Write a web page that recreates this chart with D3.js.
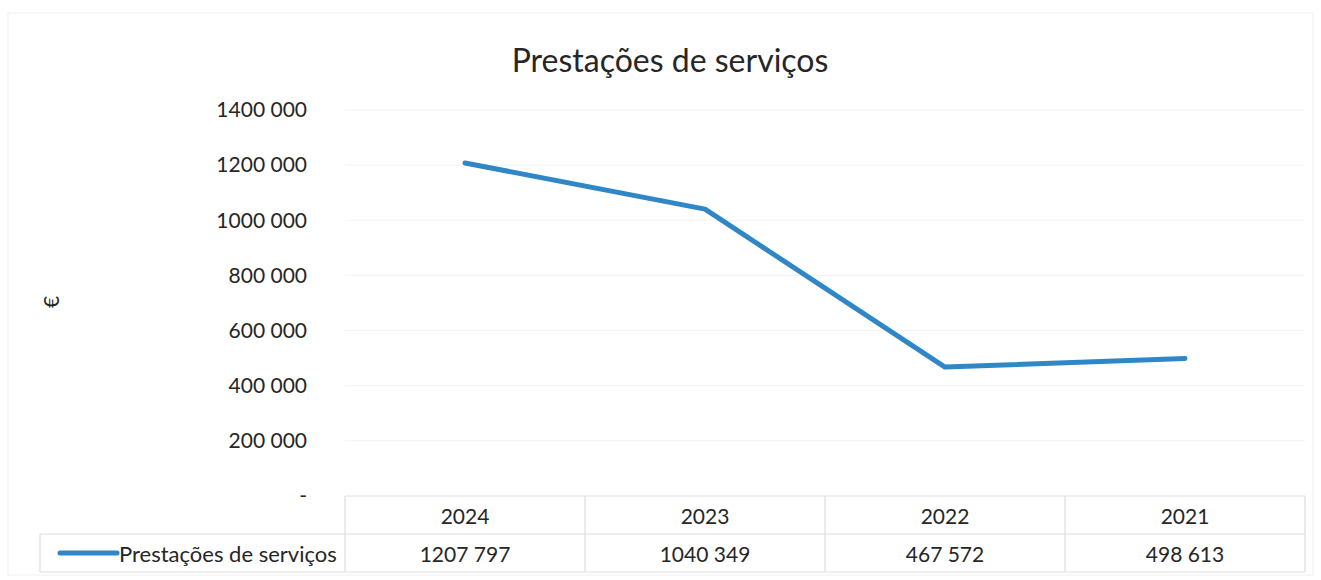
<!DOCTYPE html>
<html lang="pt">
  <head>
    <meta charset="utf-8">
    <title>Prestações de serviços</title>
    <script src="https://cdnjs.cloudflare.com/ajax/libs/d3/7.8.5/d3.min.js"></script>
    <style>
      body { margin: 0; background: #fff; }
      text { font-family: Lato, "Open Sans", sans-serif; fill: #262626; }
    </style>
  </head>
  <body>
    <script>
      // data
      const years = ["2024", "2023", "2022", "2021"];
      const values = [1207797, 1040349, 467572, 498613];
      const valueLabels = ["1207 797", "1040 349", "467 572", "498 613"];
      const yTicks = [0, 200000, 400000, 600000, 800000, 1000000, 1200000, 1400000];
      const yTickLabels = ["-", "200 000", "400 000", "600 000", "800 000", "1000 000", "1200 000", "1400 000"];
      const seriesName = "Prestações de serviços";

      const w = 1321, h = 580;
      const plotLeft = 345, plotRight = 1305, plotTop = 110, plotBottom = 496;
      const rowMid = 534, rowEnd = 572, legendLeft = 40;
      const blue = "#2f87c8";

      const svg = d3.select("body").append("svg")
        .attr("width", w).attr("height", h);

      // faint outer frame
      svg.append("rect")
        .attr("x", 8).attr("y", 13).attr("width", 1305).attr("height", 562)
        .attr("fill", "none").attr("stroke", "#f0f0f0");

      const x = d3.scaleBand().domain(years).range([plotLeft, plotRight]).padding(0);
      const y = d3.scaleLinear().domain([0, 1400000]).range([plotBottom, plotTop]);

      // gridlines
      svg.append("g").selectAll("line")
        .data(yTicks.slice(1))
        .join("line")
        .attr("x1", plotLeft).attr("x2", plotRight)
        .attr("y1", d => y(d)).attr("y2", d => y(d))
        .attr("stroke", "#f2f2f2").attr("stroke-width", 1);

      // y axis labels
      const yAxis = d3.axisLeft(y).tickValues(yTicks)
        .tickFormat((d, i) => yTickLabels[i]).tickSize(0).tickPadding(38);
      const gy = svg.append("g").attr("transform", `translate(${plotLeft},0)`).call(yAxis);
      gy.select(".domain").remove();
      gy.selectAll("text").style("font-size", "21px").attr("fill", "#262626")
        .style("font-family", "Lato, 'Open Sans', sans-serif");

      // unit label
      svg.append("text")
        .attr("transform", "translate(59,302) rotate(-90)")
        .attr("text-anchor", "middle")
        .style("font-size", "21px")
        .text("€");

      // title
      svg.append("text")
        .attr("x", 670).attr("y", 72)
        .attr("text-anchor", "middle")
        .style("font-size", "32px")
        .text("Prestações de serviços");

      // data table
      const tbl = svg.append("g").attr("stroke", "#dedede").attr("stroke-width", 1.2);
      tbl.append("line").attr("x1", plotLeft).attr("x2", plotRight).attr("y1", plotBottom).attr("y2", plotBottom);
      tbl.append("line").attr("x1", legendLeft).attr("x2", plotRight).attr("y1", rowMid).attr("y2", rowMid);
      tbl.append("line").attr("x1", legendLeft).attr("x2", plotRight).attr("y1", rowEnd).attr("y2", rowEnd);
      tbl.append("line").attr("x1", legendLeft).attr("x2", legendLeft).attr("y1", rowMid).attr("y2", rowEnd);
      tbl.selectAll(".vl")
        .data(years.concat(["end"]))
        .join("line")
        .attr("x1", (d, i) => i < years.length ? x(d) : plotRight)
        .attr("x2", (d, i) => i < years.length ? x(d) : plotRight)
        .attr("y1", plotBottom).attr("y2", rowEnd);

      svg.append("g").selectAll("text")
        .data(years)
        .join("text")
        .attr("x", d => x(d) + x.bandwidth() / 2)
        .attr("y", 524)
        .attr("text-anchor", "middle")
        .style("font-size", "21px")
        .text(d => d);

      svg.append("g").selectAll("text")
        .data(valueLabels)
        .join("text")
        .attr("x", (d, i) => x(years[i]) + x.bandwidth() / 2)
        .attr("y", 562)
        .attr("text-anchor", "middle")
        .style("font-size", "21px")
        .text(d => d);

      // legend key in table
      svg.append("line")
        .attr("x1", 60).attr("x2", 117).attr("y1", 553).attr("y2", 553)
        .attr("stroke", blue).attr("stroke-width", 5).attr("stroke-linecap", "round");
      svg.append("text")
        .attr("x", 119).attr("y", 562)
        .style("font-size", "22px")
        .text(seriesName);

      // series line
      const line = d3.line()
        .x((d, i) => x(years[i]) + x.bandwidth() / 2)
        .y(d => y(d));
      svg.append("path")
        .datum(values)
        .attr("d", line)
        .attr("fill", "none")
        .attr("stroke", blue)
        .attr("stroke-width", 5)
        .attr("stroke-linecap", "round")
        .attr("stroke-linejoin", "round");
    </script>
  </body>
</html>
